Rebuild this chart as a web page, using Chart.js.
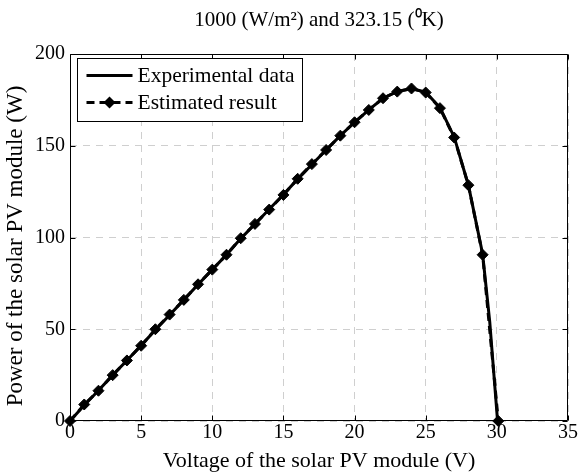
<!DOCTYPE html>
<html><head><meta charset="utf-8">
<script src="https://cdn.jsdelivr.net/npm/chart.js@4"></script>
<style>html,body{margin:0;padding:0;background:#fff}#wrap{width:579px;height:474px}</style>
</head><body><div id="wrap"><canvas id="c" width="579" height="474"></canvas></div>
<script>
const titleText = '1000 (W/m\u00B2) and 323.15 (\u2070K)';
const xTitle = 'Voltage of the solar PV module (V)';
const yTitle = 'Power of the solar PV module (W)';
const seriesNames = ['Experimental data', 'Estimated result'];
const xTickValues = [0, 5, 10, 15, 20, 25, 30, 35];
const yTickValues = [0, 50, 100, 150, 200];

const expVoltage = [0,1,2,3,4,5,6,7,8,9,10,11,12,13,14,15,16,17,18,19,20,21,22,23,24,25,26,27,28,29,29.5,30.05];
const expPower   = [0,8.6,16.6,25,33,41.2,49.6,57.8,66,74.4,82.5,90.6,99.4,107.4,115.4,123.4,131.8,139.8,147.7,155.5,162.8,169.6,175.9,179.6,181.2,179.2,170.8,154.8,128.5,91,54,0];
const estVoltage = [0,1,2,3,4,5,6,7,8,9,10,11,12,13,14,15,16,17,18,19,20,21,22,23,24,25,26,27,28,29,30.1];
const estPower   = [0,9,16.5,25,33,41,50,58,66,74.5,82.5,90.6,99.6,107.4,115.2,123.2,132,140,147.7,155.5,162.8,169.5,175.9,179.5,181.2,179,170.5,154.5,128.5,90.6,0];

const FONT = "'Liberation Serif', 'Times New Roman', serif";

const texts = {
  id: 'texts',
  afterDraw(chart) {
    const {ctx, chartArea: a} = chart;
    ctx.save();
    ctx.fillStyle = '#000';
    ctx.textAlign = 'center';
    ctx.textBaseline = 'middle';
    ctx.font = '21px ' + FONT;
    ctx.fillText(titleText, (a.left + a.right) / 2, 20);
    ctx.translate(16, 246);
    ctx.rotate(-Math.PI / 2);
    ctx.font = '23px ' + FONT;
    ctx.fillText(yTitle, 0, 0);
    ctx.restore();
  }
};

const frame = {
  id: 'frame',
  beforeDatasetsDraw(chart) {
    const {ctx, chartArea: a, scales} = chart;
    ctx.save();
    ctx.strokeStyle = '#000';
    ctx.lineWidth = 1;
    ctx.beginPath();
    const L = Math.round(a.left) + 0.5, R = Math.round(a.right) - 0.5, T = Math.round(a.top) + 0.5, B = Math.round(a.bottom) - 0.5;
    ctx.rect(L, T, R - L, B - T);
    const tl = 5;
    scales.x.ticks.forEach(t => {
      const px = Math.round(scales.x.getPixelForValue(t.value)) + 0.5;
      ctx.moveTo(px, B); ctx.lineTo(px, B - tl);
      ctx.moveTo(px, T); ctx.lineTo(px, T + tl);
    });
    scales.y.ticks.forEach(t => {
      const py = Math.round(scales.y.getPixelForValue(t.value)) + 0.5;
      ctx.moveTo(L, py); ctx.lineTo(L + tl, py);
      ctx.moveTo(R, py); ctx.lineTo(R - tl, py);
    });
    ctx.stroke();
    ctx.restore();
  }
};

const boxLegend = {
  id: 'boxLegend',
  afterDraw(chart) {
    const {ctx, chartArea: a} = chart;
    const x0 = Math.round(a.left) + 7.5, y0 = Math.round(a.top) + 4.5;
    const w = 225, h = 63;
    ctx.save();
    ctx.fillStyle = '#fff';
    ctx.fillRect(x0, y0, w, h);
    ctx.strokeStyle = '#000';
    ctx.lineWidth = 1;
    ctx.strokeRect(x0, y0, w, h);
    const rows = [y0 + 17, y0 + 44];
    chart.data.datasets.forEach((ds, i) => {
      const y = rows[i];
      ctx.beginPath();
      ctx.setLineDash(ds.borderDash || []);
      ctx.lineWidth = ds.borderWidth;
      ctx.strokeStyle = '#000';
      ctx.moveTo(x0 + 9, y); ctx.lineTo(x0 + 55, y);
      ctx.stroke();
      ctx.setLineDash([]);
      if (ds.pointRadius > 0) {
        const cx = x0 + 32, r = 6;
        ctx.beginPath();
        ctx.moveTo(cx, y - r); ctx.lineTo(cx + r, y); ctx.lineTo(cx, y + r); ctx.lineTo(cx - r, y); ctx.closePath();
        ctx.fillStyle = '#000'; ctx.fill();
      }
      ctx.fillStyle = '#000';
      ctx.font = '21.5px ' + FONT;
      ctx.textBaseline = 'middle';
      ctx.textAlign = 'left';
      ctx.fillText(ds.label, x0 + 60, y + 1);
    });
    ctx.restore();
  }
};

new Chart(document.getElementById('c'), {
  type: 'line',
  data: {
    datasets: [
      {
        label: seriesNames[0],
        data: expVoltage.map((v, i) => ({x: v, y: expPower[i]})),
        borderColor: '#000', borderWidth: 3, pointRadius: 0, fill: false,
        tension: 0, clip: false, order: 2
      },
      {
        label: seriesNames[1],
        data: estVoltage.map((v, i) => ({x: v, y: estPower[i]})),
        borderColor: '#000', backgroundColor: '#000', borderWidth: 3,
        borderDash: [8, 5],
        pointStyle: 'rectRot', pointRadius: 5.5, pointBackgroundColor: '#000', pointBorderColor: '#000', pointBorderWidth: 1,
        fill: false, tension: 0, clip: false, order: 1
      }
    ]
  },
  options: {
    responsive: false,
    animation: false,
    devicePixelRatio: 1,
    layout: {padding: {left: 0, right: 11, top: 54, bottom: 0}},
    plugins: {
      legend: {display: false},
      tooltip: {enabled: false},
      title: {display: false}
    },
    scales: {
      x: {
        type: 'linear', min: 0, max: 35,
        afterBuildTicks(s) { s.ticks = xTickValues.map(v => ({value: v})); },
        afterFit(s) { s.height = 53; },
        ticks: {color: '#000', font: {family: FONT, size: 20}, padding: 0, maxRotation: 0, autoSkip: false},
        grid: {color: '#cfcfcf', lineWidth: 1, drawTicks: false},
        border: {display: false, dash: [7, 6]},
        title: {display: true, text: xTitle, color: '#000', font: {family: FONT, size: 22}, padding: {top: 0, bottom: 0}}
      },
      y: {
        type: 'linear', min: 0, max: 200,
        afterBuildTicks(s) { s.ticks = yTickValues.map(v => ({value: v})); },
        afterFit(s) { s.width = 70; },
        ticks: {color: '#000', font: {family: FONT, size: 20}, padding: 5, autoSkip: false},
        grid: {color: '#cfcfcf', lineWidth: 1, drawTicks: false},
        border: {display: false, dash: [7, 6]},
        title: {display: false}
      }
    }
  },
  plugins: [frame, boxLegend, texts]
});
</script></body></html>
